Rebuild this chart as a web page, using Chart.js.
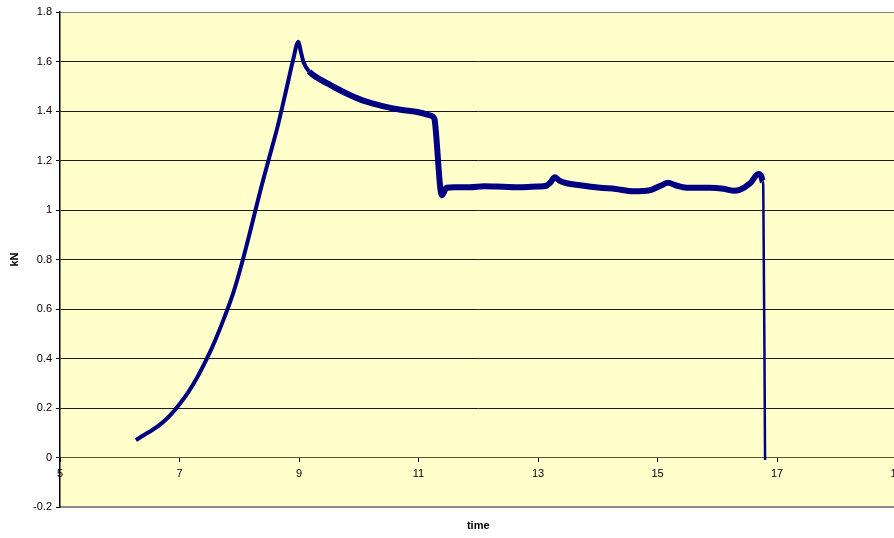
<!DOCTYPE html>
<html>
<head>
<meta charset="utf-8">
<script src="https://cdn.jsdelivr.net/npm/chart.js@4/dist/chart.umd.min.js"></script>
<style>
    html, body { margin: 0; padding: 0; background: #ffffff; overflow: hidden; }
    #wrap { width: 910px; height: 538px; position: relative; }
</style>
</head>
<body>
<div id="wrap"><canvas id="chart"></canvas></div>
<script>
// time (x) and force in kN (y)
const timeValues = [
    6.27, 6.40, 6.55, 6.70, 6.85, 7.00, 7.15, 7.30, 7.45, 7.60,
    7.75, 7.90, 8.05, 8.20, 8.35, 8.50, 8.65, 8.80, 8.90, 8.99,
    9.03, 9.08, 9.17, 9.30, 9.45, 9.60, 9.85, 10.10, 10.40, 10.70,
    11.00, 11.15, 11.25, 11.27, 11.39, 11.47, 11.60, 11.86, 12.10, 12.41,
    12.70, 13.00, 13.14, 13.22, 13.28, 13.35, 13.48, 13.70, 14.04, 14.30,
    14.59, 14.87, 15.05, 15.18, 15.30, 15.49, 15.88, 16.10, 16.27, 16.38,
    16.55, 16.69, 16.74, 16.76, 16.77, 16.80
];
const forceValues = [
    0.07, 0.09, 0.112, 0.138, 0.172, 0.215, 0.265, 0.325, 0.395, 0.475,
    0.565, 0.665, 0.79, 0.93, 1.075, 1.21, 1.345, 1.50, 1.605, 1.68,
    1.64, 1.595, 1.56, 1.535, 1.515, 1.495, 1.465, 1.44, 1.42, 1.405,
    1.395, 1.385, 1.375, 1.365, 1.06, 1.09, 1.092, 1.092, 1.096, 1.094,
    1.092, 1.095, 1.098, 1.115, 1.132, 1.12, 1.108, 1.10, 1.09, 1.085,
    1.076, 1.08, 1.098, 1.11, 1.10, 1.09, 1.09, 1.086, 1.078, 1.082,
    1.108, 1.145, 1.135, 1.115, 1.10, -0.01
];
const xTicks = [5, 7, 9, 11, 13, 15, 17, 19];
const yTicks = [-0.2, 0, 0.2, 0.4, 0.6, 0.8, 1, 1.2, 1.4, 1.6, 1.8];

const points = timeValues.map((t, i) => ({ x: t, y: forceValues[i] }));

const plotBackground = {
    id: 'plotBackground',
    beforeDraw(chart) {
        const { ctx, chartArea } = chart;
        ctx.save();
        ctx.fillStyle = '#FFFFCC';
        ctx.fillRect(chartArea.left, chartArea.top, chartArea.right - chartArea.left, chartArea.bottom - chartArea.top);
        ctx.restore();
    }
};

const tickFont = { family: 'Liberation Sans, Arial, sans-serif', size: 11 };
const titleFont = { family: 'Liberation Sans, Arial, sans-serif', size: 11, weight: 'bold' };

new Chart(document.getElementById('chart').getContext('2d'), {
    type: 'line',
    data: {
        datasets: [{
            data: points,
            borderColor: '#000080',
            borderWidth: 4,
            pointRadius: 0,
            cubicInterpolationMode: 'monotone',
            fill: false,
            segment: {
                borderWidth: c => {
                    const x0 = c.p0.parsed.x;
                    if (x0 >= 16.76) return 2.5;
                    if (x0 > 9.1) return 6;
                    return 4;
                }
            }
        }]
    },
    plugins: [plotBackground],
    options: {
        responsive: true,
        maintainAspectRatio: false,
        animation: false,
        layout: { padding: { top: 12, right: 13.5, left: 0, bottom: 0 } },
        plugins: { legend: { display: false }, tooltip: { enabled: false } },
        scales: {
            x: {
                type: 'linear',
                position: { y: 0 },
                min: 5,
                max: 19,
                afterBuildTicks: s => { s.ticks = xTicks.map(v => ({ value: v })); },
                ticks: { font: tickFont, color: '#000', padding: 6, maxRotation: 0, autoSkip: false },
                grid: { drawOnChartArea: false, drawTicks: true, tickLength: 4, color: '#000' },
                border: { display: true, color: '#555533', width: 1 }
            },
            xTitle: {
                type: 'linear',
                axis: 'x',
                position: 'bottom',
                min: 5,
                max: 19,
                afterFit: s => { s.height = 31; },
                ticks: { display: false },
                grid: { display: false, drawTicks: false },
                border: { display: true, color: '#8c8c8c', width: 2 },
                title: { display: true, text: 'time', font: titleFont, color: '#000', padding: { top: 0, bottom: 5 } }
            },
            y: {
                type: 'linear',
                min: -0.2,
                max: 1.8,
                afterFit: s => { s.width = 60; },
                afterBuildTicks: s => { s.ticks = yTicks.map(v => ({ value: v })); },
                ticks: {
                    font: tickFont,
                    color: '#000',
                    padding: 4,
                    callback: v => String(Number(v.toFixed(1)))
                },
                grid: {
                    color: c => (c.tick && (c.tick.value === 1.8 || c.tick.value === -0.2)) ? '#808080' : '#1a1a1a',
                    lineWidth: 1,
                    tickLength: 4,
                    tickColor: '#000'
                },
                border: { display: true, color: '#000', width: 1.5 },
                title: { display: true, text: 'kN', font: titleFont, color: '#000', padding: { top: 8, bottom: 0 } }
            }
        }
    }
});
</script>
</body>
</html>
